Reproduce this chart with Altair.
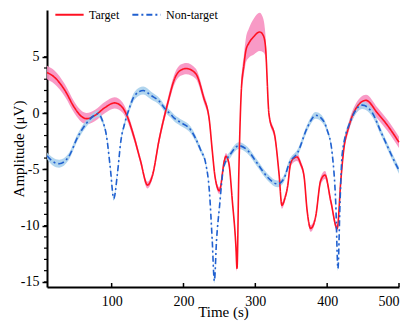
import altair as alt
import pandas as pd

# ---- data ----
t_target = [10, 20, 35, 48, 58, 65, 77, 91, 104, 115, 122, 131, 140, 150, 157, 166, 178, 188, 196, 204,
            217, 228, 236, 240, 244, 250, 257, 259, 263, 268, 273, 274.5, 277, 280.5, 284, 287, 291, 298,
            306, 311, 314, 319, 328, 333, 337, 341, 345, 349, 354, 358, 363, 368, 372, 377, 384, 391, 397,
            405, 414, 419, 423, 430, 440, 454, 470, 484, 500]
y_target = [3.6, 3.2, 2.0, 0.5, -0.3, -0.5, -0.2, 0.5, 0.9, 0.5, -0.35, -2.1, -4.2, -6.4, -5.5, -2.4, 0.86, 3.1, 3.8, 3.95,
            3.5, 1.4, -0.65, -3.3, -5.7, -6.9, -4.2, -3.85, -4.4, -7.8, -11.9, -13.8, -5.4, 2.0, 4.2, 5.6, 6.2, 6.8,
            7.2, 6.9, 6.0, -0.1, -2.4, -5.4, -8.2, -7.6, -6.5, -4.5, -4.0, -3.9, -4.5, -5.7, -8.6, -10.25, -9.2, -6.0, -5.5,
            -7.8, -10.25, -6.0, -3.3, -1.25, 0.4, 1.13, 0.0, -1.1, -2.6]
e_target = [0.6, 0.6, 0.55, 0.5, 0.5, 0.5, 0.5, 0.5, 0.5, 0.45, 0.4, 0.35, 0.3, 0.3, 0.3, 0.35, 0.4, 0.45, 0.5, 0.5,
            0.45, 0.4, 0.3, 0.3, 0.3, 0.3, 0.3, 0.3, 0.3, 0.3, 0.3, 0.3, 0.3, 0.6, 0.9, 1.1, 1.3, 1.6,
            1.7, 1.5, 1.0, 0.3, 0.3, 0.3, 0.3, 0.3, 0.3, 0.35, 0.35, 0.35, 0.3, 0.3, 0.3, 0.3, 0.3, 0.35, 0.35,
            0.3, 0.3, 0.3, 0.35, 0.4, 0.45, 0.5, 0.5, 0.5, 0.5]

t_non = [10, 18, 27, 40, 53, 65, 76, 81, 87, 93, 98, 103, 108, 113, 118, 125, 132, 144, 155, 167, 174, 182,
         188, 195, 210, 224, 231, 236, 240, 243, 246, 250, 256, 266, 277, 289, 303, 317, 331, 340, 347, 359,
         373, 384, 391, 400, 407, 412, 415, 418, 421, 433, 449, 463, 475, 493, 500]
y_non = [-3.8, -4.3, -4.5, -3.9, -2.1, -0.9, -0.2, -0.05, -0.65, -2.1, -4.8, -7.6, -5.4, -2.4, -0.95, 0.5, 1.55, 2.0, 1.55, 1.0, 0.4, -0.1,
         -0.5, -0.8, -1.5, -3.3, -4.5, -6.9, -11.3, -14.9, -11.3, -8.4, -4.8, -3.6, -2.9, -3.3, -4.5, -5.7, -6.3, -5.8, -4.5, -3.5,
         -1.2, -0.2, -0.4, -1.5, -3.6, -8.1, -13.8, -7.8, -3.6, -0.65, 0.7, 0.0, -1.7, -4.2, -5.1]
e_non = [0.3, 0.35, 0.35, 0.3, 0.3, 0.3, 0.3, 0.3, 0.25, 0.2, 0.2, 0.2, 0.2, 0.2, 0.25, 0.3, 0.35, 0.35, 0.35, 0.3, 0.3, 0.3,
         0.3, 0.3, 0.3, 0.25, 0.2, 0.2, 0.2, 0.2, 0.2, 0.2, 0.25, 0.3, 0.3, 0.3, 0.3, 0.3, 0.3, 0.3, 0.3, 0.3,
         0.3, 0.3, 0.3, 0.25, 0.2, 0.2, 0.2, 0.2, 0.2, 0.3, 0.35, 0.35, 0.3, 0.3, 0.3]

series_names = ["Target", "Non-target"]
line_colors = ["#ff1122", "#2060d0"]
band_colors = ["#f78fc0", "#a8d0ec"]
x_tick_values = [100, 200, 300, 400, 500]
y_major_values = [-15, -10, -5, 0, 5]
y_minor_values = list(range(-15, 6))

rows = []
for t, y, e in zip(t_target, y_target, e_target):
    rows.append({"t": t, "y": y, "lo": y - e, "hi": y + e, "series": "Target"})
for t, y, e in zip(t_non, y_non, e_non):
    rows.append({"t": t, "y": y, "lo": y - e, "hi": y + e, "series": "Non-target"})
df = pd.DataFrame(rows)
xticks_df = pd.DataFrame({"t": x_tick_values})
yminor_df = pd.DataFrame({"v": y_minor_values})

W, H = 352, 277
xs = alt.Scale(domain=[10, 500], nice=False, zero=False)
ys = alt.Scale(domain=[-15.45, 9.15], nice=False, zero=False)

FONT = "Liberation Serif"

x_axis = alt.Axis(values=x_tick_values, title="Time (s)", ticks=False, grid=False,
                  labelPadding=7, labelFontSize=14, titleFontSize=15, titlePadding=-4,
                  labelFont=FONT, titleFont=FONT, domainWidth=2, domainColor="black",
                  labelColor="black", titleColor="black", titleFontWeight="normal",
                  labelOverlap=False)
y_axis = alt.Axis(values=y_major_values, title="Amplitude (μV)", grid=False,
                  labelExpr="'' + datum.value", labelOverlap=False,
                  tickSize=5, tickWidth=1.5, tickColor="black", labelPadding=3,
                  labelFontSize=14, titleFontSize=15,
                  titleX=-29, titleY=H / 2, titleAngle=270, titleBaseline="middle", titleAlign="center",
                  labelFont=FONT, titleFont=FONT, domainWidth=2, domainColor="black",
                  labelColor="black", titleColor="black", titleFontWeight="normal")

base = alt.Chart(df)

band_t = base.transform_filter("datum.series == 'Target'").mark_area(
    interpolate="monotone", color=band_colors[0], opacity=0.9
).encode(x=alt.X("t:Q", scale=xs, axis=x_axis), y=alt.Y("lo:Q", scale=ys, axis=y_axis), y2="hi:Q")

band_n = base.transform_filter("datum.series == 'Non-target'").mark_area(
    interpolate="monotone", color=band_colors[1], opacity=0.9
).encode(x=alt.X("t:Q", scale=xs), y=alt.Y("lo:Q", scale=ys), y2="hi:Q")

lines = base.mark_line(interpolate="monotone", strokeWidth=1.6).encode(
    x=alt.X("t:Q", scale=xs),
    y=alt.Y("y:Q", scale=ys),
    color=alt.Color("series:N", scale=alt.Scale(domain=series_names, range=line_colors),
                    legend=alt.Legend(title=None, orient="none", legendX=7, legendY=-11,
                                      direction="horizontal", symbolType="stroke",
                                      symbolSize=800, symbolStrokeWidth=2,
                                      labelFont=FONT, labelFontSize=12, labelColor="black",
                                      labelOffset=4, columnPadding=8, padding=0)),
    strokeDash=alt.StrokeDash("series:N", scale=alt.Scale(domain=series_names, range=[[1, 0], [6, 3, 2, 3]]),
                              legend=None),
    order=alt.Order("t:Q"),
)

xticks = alt.Chart(xticks_df).mark_rule(color="black", strokeWidth=1.5).encode(
    x=alt.X("t:Q", scale=xs), y=alt.value(H - 4), y2=alt.value(H)
)

yminor = alt.Chart(yminor_df).mark_rule(color="black", strokeWidth=1.2).encode(
    y=alt.Y("v:Q", scale=ys), x=alt.value(-3), x2=alt.value(0)
)

chart = alt.layer(band_t, band_n, lines, xticks, yminor).properties(
    width=W, height=H,
    autosize=alt.AutoSizeParams(type="none"),
    padding={"left": 39, "top": 2, "right": 8, "bottom": 36},
).configure_view(stroke=None)

chart.save("out.html", embed_options={"renderer": "svg", "actions": False})
